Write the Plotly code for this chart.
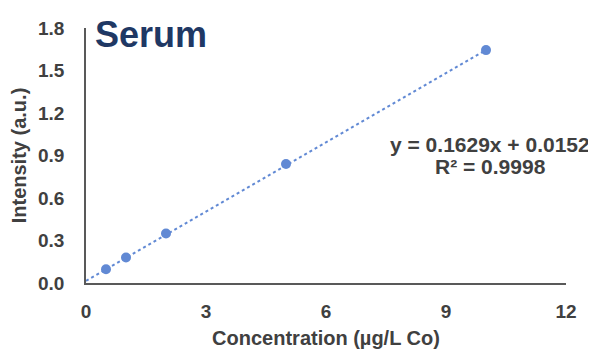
import plotly.graph_objects as go

concentration = [0.5, 1, 2, 5, 10]
intensity = [0.097, 0.18, 0.35, 0.84, 1.644]
slope = 0.1629
intercept = 0.0152
r_squared = 0.9998
x_ticks = [0, 3, 6, 9, 12]
y_ticks = [0.0, 0.3, 0.6, 0.9, 1.2, 1.5, 1.8]

color = "#6189D4"
text_color = "#404040"
font = "Liberation Sans, Arial, sans-serif"

fit_x = [0, max(concentration)]
fit_y = [slope * x + intercept for x in fit_x]

fig = go.Figure()
fig.add_trace(go.Scatter(x=fit_x, y=fit_y, mode="lines",
                         line=dict(color=color, width=2, dash="dot"),
                         showlegend=False, hoverinfo="skip"))
fig.add_trace(go.Scatter(x=concentration, y=intensity, mode="markers",
                         marker=dict(color=color, size=10),
                         showlegend=False))

fig.add_annotation(x=10.1, y=0.975, xref="x", yref="y",
                   text=f"<b>y = {slope}x + {intercept}</b>",
                   showarrow=False, xanchor="center", yanchor="middle",
                   font=dict(family=font, size=21, color=text_color))
fig.add_annotation(x=10.1, y=0.825, xref="x", yref="y",
                   text=f"<b>R² = {r_squared}</b>",
                   showarrow=False, xanchor="center", yanchor="middle",
                   font=dict(family=font, size=21, color=text_color))
fig.add_annotation(x=0.17, y=1.755, xref="x", yref="y",
                   text="<b>Serum</b>", showarrow=False, xanchor="left", yanchor="middle",
                   font=dict(family=font, size=36, color="#1F3864"))

fig.update_layout(
    width=588, height=341,
    margin=dict(l=78, r=30, t=20, b=66, autoexpand=False),
    plot_bgcolor="white", paper_bgcolor="white",
    font=dict(family=font, size=19, color=text_color),
    xaxis=dict(range=[0, 12], tickvals=x_ticks, ticktext=[f"<b>{v}</b>" for v in x_ticks],
               showgrid=False, zeroline=False, showline=True, linecolor="#595959", linewidth=1.5,
               ticks="", ticklen=0, ticklabelstandoff=10,
               tickfont=dict(size=19, color=text_color),
               title=dict(text="<b>Concentration (µg/L Co)</b>", standoff=11,
                          font=dict(size=20, color=text_color))),
    yaxis=dict(range=[0, 1.8], tickvals=y_ticks, ticktext=[f"<b>{v:.1f}</b>" for v in y_ticks],
               showgrid=False, zeroline=False, showline=True, linecolor="#595959", linewidth=1.5,
               ticks="", ticklen=0, ticklabelstandoff=16,
               tickfont=dict(size=19, color=text_color),
               title=dict(text="<b>Intensity (a.u.)</b>", standoff=7,
                          font=dict(size=20, color=text_color))),
)

fig.write_html("out.html")
